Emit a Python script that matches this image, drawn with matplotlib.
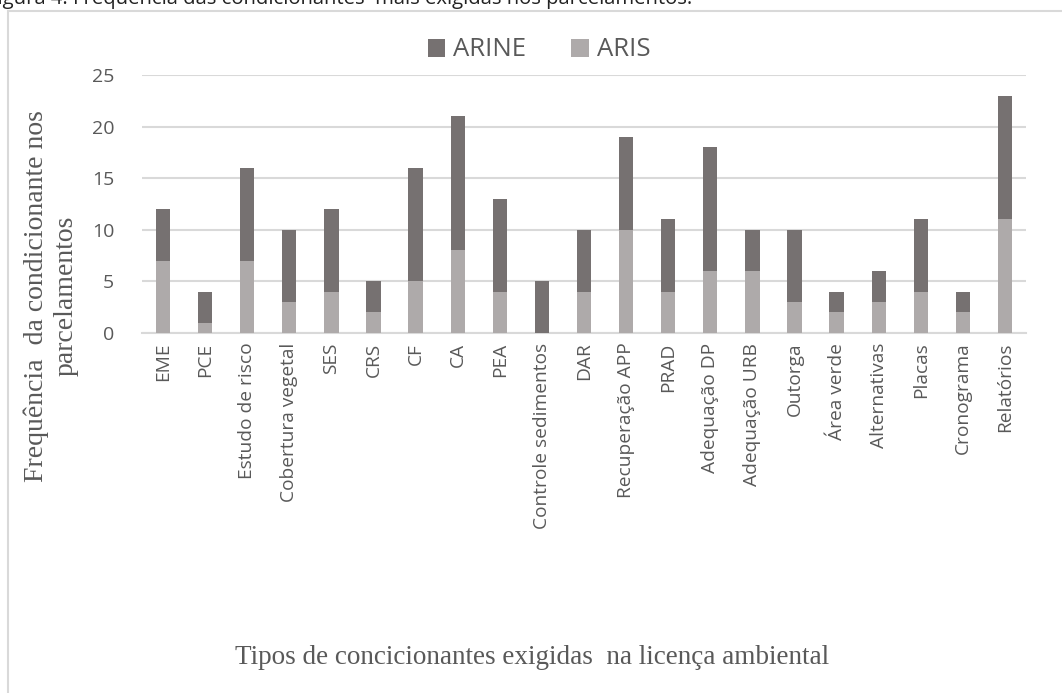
import numpy as np
import matplotlib
matplotlib.use("Agg")
import matplotlib.pyplot as plt
from matplotlib.patches import Rectangle

categories = ["EME", "PCE", "Estudo de risco", "Cobertura vegetal", "SES", "CRS",
              "CF", "CA", "PEA", "Controle sedimentos", "DAR", "Recuperação APP",
              "PRAD", "Adequação DP", "Adequação URB", "Outorga", "Área verde",
              "Alternativas", "Placas", "Cronograma", "Relatórios"]
aris = [7, 1, 7, 3, 4, 2, 5, 8, 4, 0, 4, 10, 4, 6, 6, 3, 2, 3, 4, 2, 11]
arine = [5, 3, 9, 7, 8, 3, 11, 13, 9, 5, 6, 9, 7, 12, 4, 7, 2, 3, 7, 2, 12]

dark = "#767171"
light = "#AEAAAA"
txt = "#595959"
grid = "#D9D9D9"

W, H = 1062, 693
fig = plt.figure(figsize=(W / 100, H / 100), dpi=100)

# chart frame
fig.patches.append(Rectangle((8 / W, -0.05), 1.1, (H - 11) / H + 0.05,
                             transform=fig.transFigure, fill=False,
                             edgecolor=grid, linewidth=1.5))
fig.text(-13 / W, (H - 4) / H,
         "Figura 4. Frequência das condicionantes  mais exigidas nos parcelamentos.",
         fontsize=14.6, family="Open Sans", color="#222222", va="baseline")

ax = fig.add_axes([142 / W, (H - 333) / H, 884 / W, 258 / H])
x = np.arange(len(categories))
ax.bar(x, arine, 0.34, bottom=aris, color=dark, label="ARINE", zorder=3)
ax.bar(x, aris, 0.34, color=light, label="ARIS", zorder=3)

ax.set_xlim(-0.5, len(categories) - 0.5)
ax.set_ylim(0, 25)
ax.set_yticks(range(0, 26, 5))
ax.yaxis.grid(True, color=grid, linewidth=1.5, zorder=0)
for s in ["top", "right", "left"]:
    ax.spines[s].set_visible(False)
ax.spines["bottom"].set_color(grid)
ax.spines["bottom"].set_linewidth(1.5)
ax.tick_params(length=0, colors=txt, labelsize=14)
ax.tick_params(axis="y", pad=20)
ax.tick_params(axis="x", pad=7)
ax.set_xticks(x)
ax.set_xticklabels(categories, rotation=90, family="Open Sans", fontsize=13.8)
for lab in ax.get_yticklabels():
    lab.set_family("Open Sans")

fig.text(51 / W, (H - 296) / H, "Frequência  da condicionante nos\nparcelamentos",
         rotation=90, ha="center", va="center", family="Liberation Serif",
         fontsize=20, color=txt, multialignment="center", linespacing=1.22)
fig.text(532 / W, (H - 657) / H, "Tipos de concicionantes exigidas  na licença ambiental",
         ha="center", va="center", family="Liberation Serif", fontsize=19.5, color=txt)

leg = fig.legend(loc="center", bbox_to_anchor=(539 / W, (H - 50) / H), ncol=2,
                 frameon=False, handlelength=0.7, handleheight=0.7,
                 columnspacing=1.75, handletextpad=0.3,
                 prop={"family": "Open Sans", "size": 18.5})
for t in leg.get_texts():
    t.set_color(txt)

fig.savefig("out.png", dpi=100)
